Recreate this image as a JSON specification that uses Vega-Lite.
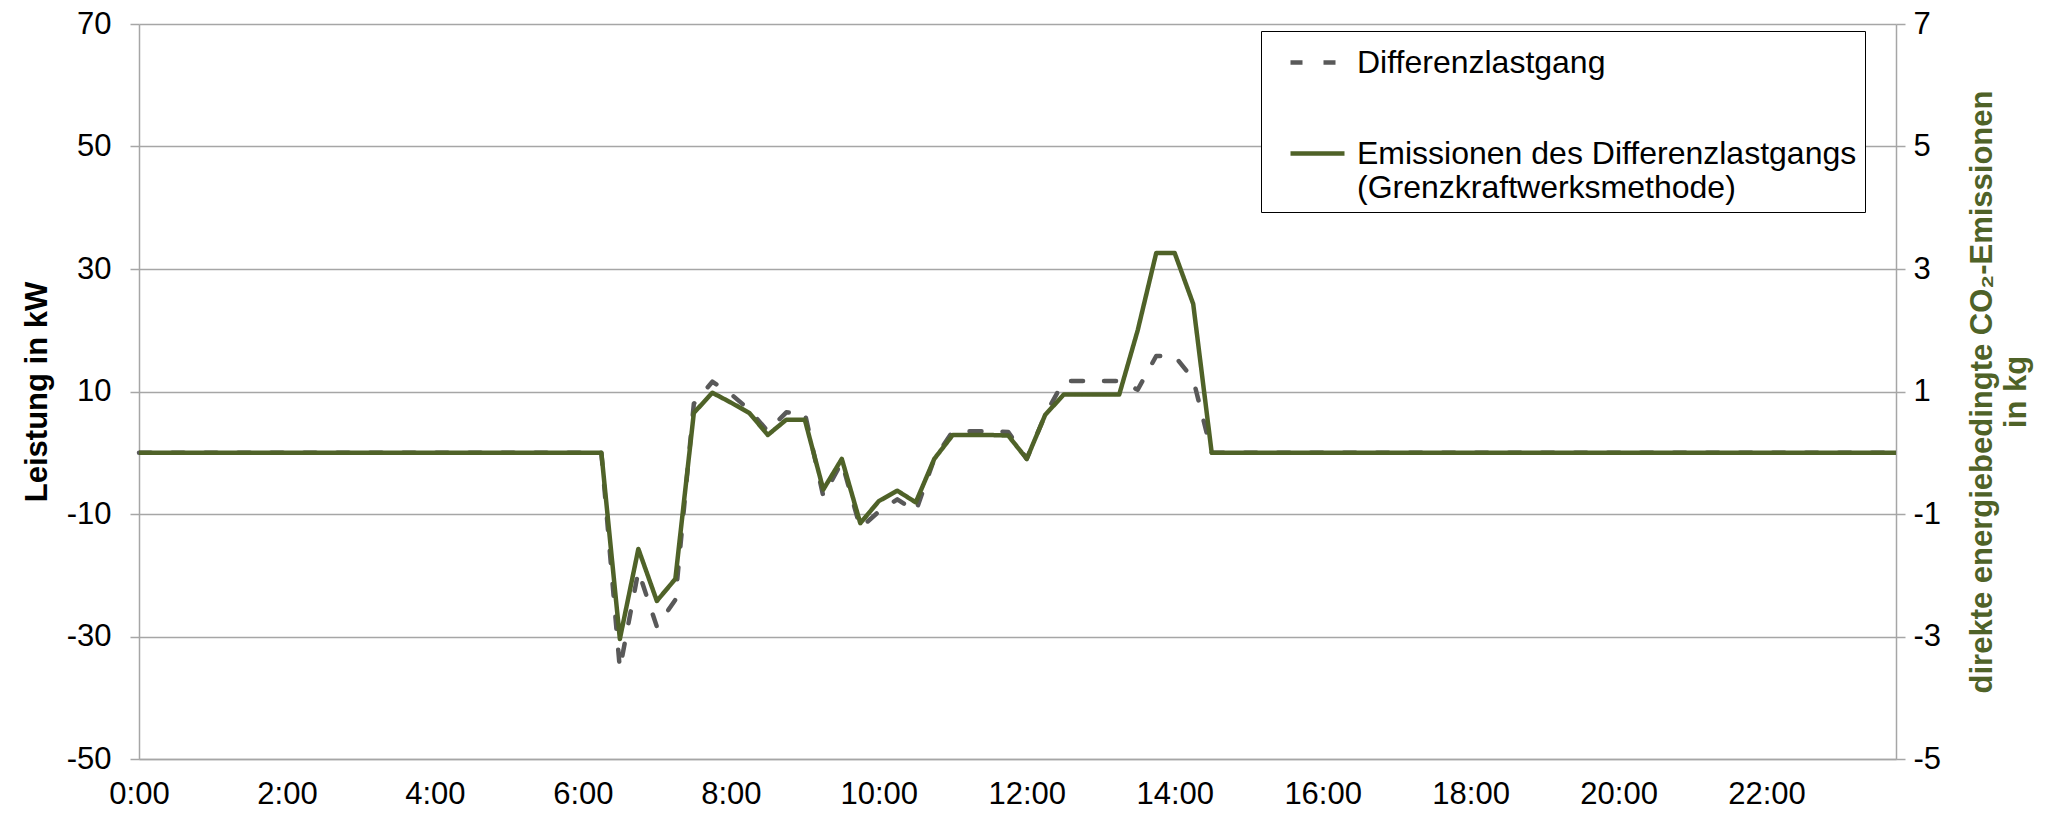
{
  "$schema": "https://vega.github.io/schema/vega-lite/v6.json",
  "width": 1757,
  "height": 735,
  "autosize": "none",
  "padding": {"left": 139, "top": 24, "right": 153, "bottom": 54},
  "background": "white",
  "config": {
    "view": {"stroke": null},
    "font": "Liberation Sans",
    "axis": {
      "labelFont": "Liberation Sans",
      "labelFontSize": 31,
      "labelColor": "black",
      "domainColor": "#A6A6A6",
      "domainWidth": 1.5,
      "tickColor": "#A6A6A6",
      "tickWidth": 1.5,
      "gridColor": "#A6A6A6",
      "gridWidth": 1.5,
      "titleFont": "Liberation Sans",
      "titleFontWeight": "bold",
      "titleFontSize": 31
    }
  },
  "data": {
    "values": [
      {"Stunde": 0, "Differenzlastgang": 0, "Emissionen": 0},
      {"Stunde": 0.25, "Differenzlastgang": 0, "Emissionen": 0},
      {"Stunde": 0.5, "Differenzlastgang": 0, "Emissionen": 0},
      {"Stunde": 0.75, "Differenzlastgang": 0, "Emissionen": 0},
      {"Stunde": 1, "Differenzlastgang": 0, "Emissionen": 0},
      {"Stunde": 1.25, "Differenzlastgang": 0, "Emissionen": 0},
      {"Stunde": 1.5, "Differenzlastgang": 0, "Emissionen": 0},
      {"Stunde": 1.75, "Differenzlastgang": 0, "Emissionen": 0},
      {"Stunde": 2, "Differenzlastgang": 0, "Emissionen": 0},
      {"Stunde": 2.25, "Differenzlastgang": 0, "Emissionen": 0},
      {"Stunde": 2.5, "Differenzlastgang": 0, "Emissionen": 0},
      {"Stunde": 2.75, "Differenzlastgang": 0, "Emissionen": 0},
      {"Stunde": 3, "Differenzlastgang": 0, "Emissionen": 0},
      {"Stunde": 3.25, "Differenzlastgang": 0, "Emissionen": 0},
      {"Stunde": 3.5, "Differenzlastgang": 0, "Emissionen": 0},
      {"Stunde": 3.75, "Differenzlastgang": 0, "Emissionen": 0},
      {"Stunde": 4, "Differenzlastgang": 0, "Emissionen": 0},
      {"Stunde": 4.25, "Differenzlastgang": 0, "Emissionen": 0},
      {"Stunde": 4.5, "Differenzlastgang": 0, "Emissionen": 0},
      {"Stunde": 4.75, "Differenzlastgang": 0, "Emissionen": 0},
      {"Stunde": 5, "Differenzlastgang": 0, "Emissionen": 0},
      {"Stunde": 5.25, "Differenzlastgang": 0, "Emissionen": 0},
      {"Stunde": 5.5, "Differenzlastgang": 0, "Emissionen": 0},
      {"Stunde": 5.75, "Differenzlastgang": 0, "Emissionen": 0},
      {"Stunde": 6, "Differenzlastgang": 0, "Emissionen": 0},
      {"Stunde": 6.25, "Differenzlastgang": 0, "Emissionen": 0},
      {"Stunde": 6.5, "Differenzlastgang": -35.3, "Emissionen": -3.04},
      {"Stunde": 6.75, "Differenzlastgang": -19.3, "Emissionen": -1.57},
      {"Stunde": 7, "Differenzlastgang": -28.4, "Emissionen": -2.42},
      {"Stunde": 7.25, "Differenzlastgang": -24.0, "Emissionen": -2.06},
      {"Stunde": 7.5, "Differenzlastgang": 8.0, "Emissionen": 0.65},
      {"Stunde": 7.75, "Differenzlastgang": 11.6, "Emissionen": 0.98},
      {"Stunde": 8, "Differenzlastgang": 9.6, "Emissionen": 0.82},
      {"Stunde": 8.25, "Differenzlastgang": 7.0, "Emissionen": 0.65},
      {"Stunde": 8.5, "Differenzlastgang": 3.5, "Emissionen": 0.29},
      {"Stunde": 8.75, "Differenzlastgang": 6.6, "Emissionen": 0.54},
      {"Stunde": 9, "Differenzlastgang": 6.5, "Emissionen": 0.54},
      {"Stunde": 9.25, "Differenzlastgang": -7.1, "Emissionen": -0.60},
      {"Stunde": 9.5, "Differenzlastgang": -1.5, "Emissionen": -0.10},
      {"Stunde": 9.75, "Differenzlastgang": -12.3, "Emissionen": -1.15},
      {"Stunde": 10, "Differenzlastgang": -9.6, "Emissionen": -0.79},
      {"Stunde": 10.25, "Differenzlastgang": -7.6, "Emissionen": -0.62},
      {"Stunde": 10.5, "Differenzlastgang": -9.6, "Emissionen": -0.81},
      {"Stunde": 10.75, "Differenzlastgang": -1.0, "Emissionen": -0.10},
      {"Stunde": 11, "Differenzlastgang": 3.5, "Emissionen": 0.29},
      {"Stunde": 11.25, "Differenzlastgang": 3.5, "Emissionen": 0.29},
      {"Stunde": 11.5, "Differenzlastgang": 3.5, "Emissionen": 0.29},
      {"Stunde": 11.75, "Differenzlastgang": 3.4, "Emissionen": 0.28},
      {"Stunde": 12, "Differenzlastgang": -1.0, "Emissionen": -0.10},
      {"Stunde": 12.25, "Differenzlastgang": 6.2, "Emissionen": 0.62},
      {"Stunde": 12.5, "Differenzlastgang": 11.7, "Emissionen": 0.95},
      {"Stunde": 12.75, "Differenzlastgang": 11.7, "Emissionen": 0.95},
      {"Stunde": 13, "Differenzlastgang": 11.7, "Emissionen": 0.95},
      {"Stunde": 13.25, "Differenzlastgang": 11.7, "Emissionen": 0.95},
      {"Stunde": 13.5, "Differenzlastgang": 10.3, "Emissionen": 2.0},
      {"Stunde": 13.75, "Differenzlastgang": 15.8, "Emissionen": 3.26},
      {"Stunde": 14, "Differenzlastgang": 15.8, "Emissionen": 3.26},
      {"Stunde": 14.25, "Differenzlastgang": 12.0, "Emissionen": 2.43},
      {"Stunde": 14.5, "Differenzlastgang": 0, "Emissionen": 0},
      {"Stunde": 14.75, "Differenzlastgang": 0, "Emissionen": 0},
      {"Stunde": 15, "Differenzlastgang": 0, "Emissionen": 0},
      {"Stunde": 15.25, "Differenzlastgang": 0, "Emissionen": 0},
      {"Stunde": 15.5, "Differenzlastgang": 0, "Emissionen": 0},
      {"Stunde": 15.75, "Differenzlastgang": 0, "Emissionen": 0},
      {"Stunde": 16, "Differenzlastgang": 0, "Emissionen": 0},
      {"Stunde": 16.25, "Differenzlastgang": 0, "Emissionen": 0},
      {"Stunde": 16.5, "Differenzlastgang": 0, "Emissionen": 0},
      {"Stunde": 16.75, "Differenzlastgang": 0, "Emissionen": 0},
      {"Stunde": 17, "Differenzlastgang": 0, "Emissionen": 0},
      {"Stunde": 17.25, "Differenzlastgang": 0, "Emissionen": 0},
      {"Stunde": 17.5, "Differenzlastgang": 0, "Emissionen": 0},
      {"Stunde": 17.75, "Differenzlastgang": 0, "Emissionen": 0},
      {"Stunde": 18, "Differenzlastgang": 0, "Emissionen": 0},
      {"Stunde": 18.25, "Differenzlastgang": 0, "Emissionen": 0},
      {"Stunde": 18.5, "Differenzlastgang": 0, "Emissionen": 0},
      {"Stunde": 18.75, "Differenzlastgang": 0, "Emissionen": 0},
      {"Stunde": 19, "Differenzlastgang": 0, "Emissionen": 0},
      {"Stunde": 19.25, "Differenzlastgang": 0, "Emissionen": 0},
      {"Stunde": 19.5, "Differenzlastgang": 0, "Emissionen": 0},
      {"Stunde": 19.75, "Differenzlastgang": 0, "Emissionen": 0},
      {"Stunde": 20, "Differenzlastgang": 0, "Emissionen": 0},
      {"Stunde": 20.25, "Differenzlastgang": 0, "Emissionen": 0},
      {"Stunde": 20.5, "Differenzlastgang": 0, "Emissionen": 0},
      {"Stunde": 20.75, "Differenzlastgang": 0, "Emissionen": 0},
      {"Stunde": 21, "Differenzlastgang": 0, "Emissionen": 0},
      {"Stunde": 21.25, "Differenzlastgang": 0, "Emissionen": 0},
      {"Stunde": 21.5, "Differenzlastgang": 0, "Emissionen": 0},
      {"Stunde": 21.75, "Differenzlastgang": 0, "Emissionen": 0},
      {"Stunde": 22, "Differenzlastgang": 0, "Emissionen": 0},
      {"Stunde": 22.25, "Differenzlastgang": 0, "Emissionen": 0},
      {"Stunde": 22.5, "Differenzlastgang": 0, "Emissionen": 0},
      {"Stunde": 22.75, "Differenzlastgang": 0, "Emissionen": 0},
      {"Stunde": 23, "Differenzlastgang": 0, "Emissionen": 0},
      {"Stunde": 23.25, "Differenzlastgang": 0, "Emissionen": 0},
      {"Stunde": 23.5, "Differenzlastgang": 0, "Emissionen": 0},
      {"Stunde": 23.75, "Differenzlastgang": 0, "Emissionen": 0}
    ]
  },
  "encoding": {
    "x": {
      "field": "Stunde",
      "type": "quantitative",
      "scale": {"domain": [0, 23.75], "nice": false, "zero": false},
      "axis": {
        "title": null,
        "values": [0, 2, 4, 6, 8, 10, 12, 14, 16, 18, 20, 22],
        "labelExpr": "format(datum.value, 'd') + ':00'",
        "grid": false,
        "ticks": false,
        "tickSize": 0,
        "labelPadding": 20,
        "labelFlush": false,
        "labelOverlap": false
      }
    }
  },
  "layer": [
    {
      "transform": [{"fold": ["Differenzlastgang"], "as": ["Reihe", "Wert"]}],
      "mark": {"type": "line", "strokeWidth": 4.5, "strokeJoin": "round", "strokeCap": "round"},
      "encoding": {
        "y": {
          "field": "Wert",
          "type": "quantitative",
          "scale": {"domain": [-50, 70], "nice": false, "zero": false},
          "axis": {
            "orient": "left",
            "title": "Leistung in kW",
            "titleColor": "black",
            "titleAngle": -90,
            "titleX": -93,
            "titleY": 367.5,
            "titleAlign": "center",
            "titleBaseline": "alphabetic",
            "values": [-50, -30, -10, 10, 30, 50, 70],
            "labelExpr": "'' + datum.value",
            "tickSize": 9,
            "labelPadding": 19,
            "grid": true,
            "labelFlush": false,
            "labelOverlap": false
          }
        },
        "color": {
          "field": "Reihe",
          "type": "nominal",
          "scale": {"domain": ["Differenzlastgang", "Emissionen"], "range": ["#595959", "#4F6228"]},
          "legend": {
            "title": null,
            "orient": "none",
            "legendX": 1122,
            "legendY": 7,
            "direction": "vertical",
            "symbolType": "M-1.2857,0H1.2857",
            "symbolSize": 1764,
            "symbolStrokeWidth": 4.5,
            "symbolOffset": 25,
            "labelOffset": 16,
            "labelFont": "Liberation Sans",
            "labelFontSize": 32,
            "labelColor": "black",
            "labelLimit": 2000,
            "labelExpr": "datum.label == 'Emissionen' ? ['Emissionen des Differenzlastgangs', '(Grenzkraftwerksmethode)'] : datum.label",
            "strokeColor": "black",
            "fillColor": "white",
            "padding": 8,
            "rowPadding": 51
          }
        },
        "strokeDash": {
          "field": "Reihe",
          "type": "nominal",
          "scale": {"domain": ["Differenzlastgang", "Emissionen"], "range": [[12, 21], [1, 0]]},
          "legend": {
            "title": null,
            "orient": "none",
            "legendX": 1122,
            "legendY": 7,
            "direction": "vertical",
            "symbolType": "M-1.2857,0H1.2857",
            "symbolSize": 1764,
            "symbolStrokeWidth": 4.5,
            "symbolOffset": 25,
            "labelOffset": 16,
            "labelFont": "Liberation Sans",
            "labelFontSize": 32,
            "labelColor": "black",
            "labelLimit": 2000,
            "labelExpr": "datum.label == 'Emissionen' ? ['Emissionen des Differenzlastgangs', '(Grenzkraftwerksmethode)'] : datum.label",
            "strokeColor": "black",
            "fillColor": "white",
            "padding": 8,
            "rowPadding": 51
          }
        }
      }
    },
    {
      "transform": [{"fold": ["Emissionen"], "as": ["Reihe", "Wert"]}],
      "mark": {"type": "line", "strokeWidth": 4.5, "strokeJoin": "round"},
      "encoding": {
        "y": {
          "field": "Wert",
          "type": "quantitative",
          "scale": {"domain": [-5, 7], "nice": false, "zero": false},
          "axis": {
            "orient": "right",
            "title": ["direkte energiebedingte CO₂-Emissionen", "in kg"],
            "titleColor": "#4F6228",
            "titleAngle": -90,
            "titleX": 71,
            "titleY": 367.5,
            "titleAlign": "center",
            "titleBaseline": "top",
            "titleLineHeight": 34,
            "values": [-5, -3, -1, 1, 3, 5, 7],
            "labelExpr": "'' + datum.value",
            "tickSize": 9,
            "labelPadding": 8,
            "grid": false,
            "labelFlush": false,
            "labelOverlap": false
          }
        },
        "color": {"field": "Reihe", "type": "nominal"},
        "strokeDash": {"field": "Reihe", "type": "nominal"}
      }
    }
  ],
  "resolve": {"scale": {"y": "independent"}}
}
